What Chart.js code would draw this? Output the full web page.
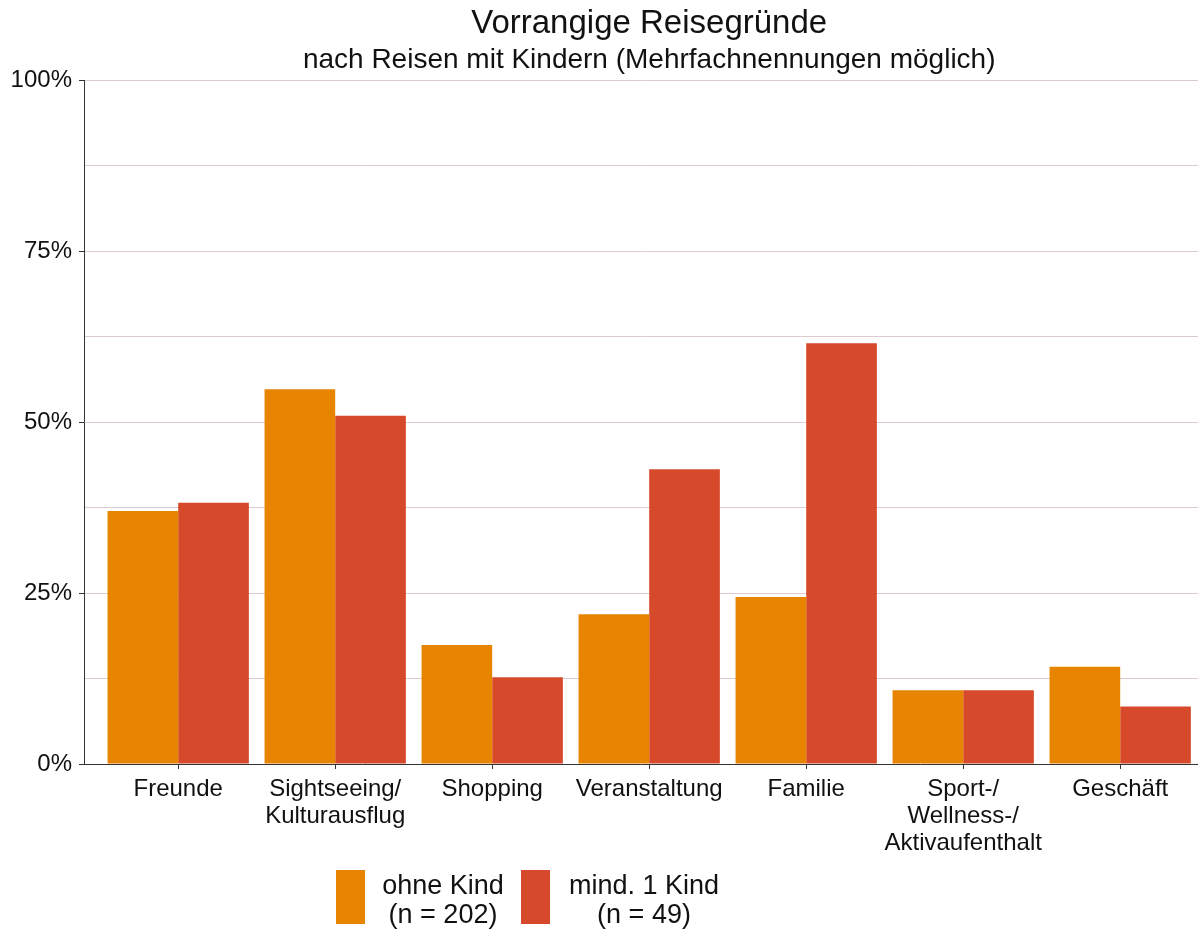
<!DOCTYPE html>
<html>
<head>
<meta charset="utf-8">
<script src="https://cdn.jsdelivr.net/npm/chart.js@4/dist/chart.umd.min.js"></script>
<style>
  html, body { margin: 0; padding: 0; background: #fff; overflow: hidden; }
  #wrap { width: 1198px; height: 930px; position: relative; }
</style>
</head>
<body>
<div id="wrap"><canvas id="reiseChart"></canvas></div>
<script>
// categories (multi-line labels as arrays)
var categories = [
	'Freunde',
	['Sightseeing/', 'Kulturausflug'],
	'Shopping',
	'Veranstaltung',
	'Familie',
	['Sport-/', 'Wellness-/', 'Aktivaufenthalt'],
	'Geschäft'
];

// percentages
var ohneKind = [37.0, 54.8, 17.4, 21.9, 24.4, 10.8, 14.2];
var mindEinKind = [38.2, 50.9, 12.7, 43.1, 61.5, 10.8, 8.4];

var seriesNames = [['ohne Kind', '(n = 202)'], ['mind. 1 Kind', '(n = 49)']];
var seriesColors = ['#E88500', '#D6492B'];

var titleText = 'Vorrangige Reisegründe';
var subtitleText = 'nach Reisen mit Kindern (Mehrfachnennungen möglich)';

var FONT = '"Liberation Sans", Arial, sans-serif';

// ggplot style discrete axis: 0.6 category expansion on each side
var catExpand = 0.6;
var catSpacing = 157;

var expandPlugin = {
	id: 'expandX',
	afterLayout: function (chart) {
		var x = chart.scales.x;
		x._startValue = -catExpand;
		x._valueRange = (x.right - x.left) / catSpacing;
	}
};

var titlePlugin = {
	id: 'centerTitle',
	afterDraw: function (chart) {
		var ctx = chart.ctx;
		var cx = chart.scales.x.getPixelForValue(3);
		ctx.save();
		ctx.fillStyle = '#111';
		ctx.textAlign = 'center';
		ctx.textBaseline = 'alphabetic';
		ctx.font = '33px ' + FONT;
		ctx.fillText(titleText, cx, 33);
		ctx.font = '28px ' + FONT;
		ctx.fillText(subtitleText, cx, 68);
		ctx.restore();
	}
};

var legendPlugin = {
	id: 'twoLineLegend',
	afterDraw: function (chart) {
		var ctx = chart.ctx;
		var boxX = [336, 521];
		var textCx = [443, 644];
		ctx.save();
		ctx.font = '27px ' + FONT;
		ctx.textAlign = 'center';
		ctx.textBaseline = 'alphabetic';
		chart.data.datasets.forEach(function (ds, i) {
			ctx.fillStyle = ds.backgroundColor;
			ctx.fillRect(boxX[i], 870, 29, 54);
			ctx.fillStyle = '#111';
			ctx.fillText(seriesNames[i][0], textCx[i], 894);
			ctx.fillText(seriesNames[i][1], textCx[i], 923);
		});
		ctx.restore();
	}
};

var ctx = document.getElementById('reiseChart').getContext('2d');
var chart = new Chart(ctx, {
	type: 'bar',
	data: {
		labels: categories,
		datasets: [{
			label: seriesNames[0].join(' '),
			data: ohneKind,
			backgroundColor: seriesColors[0]
		}, {
			label: seriesNames[1].join(' '),
			data: mindEinKind,
			backgroundColor: seriesColors[1]
		}]
	},
	options: {
		responsive: true,
		maintainAspectRatio: false,
		animation: false,
		layout: {
			padding: { top: 80, bottom: 70, left: 0, right: 0 }
		},
		datasets: {
			bar: {
				categoryPercentage: 0.9,
				barPercentage: 1.0
			}
		},
		plugins: {
			legend: { display: false },
			title: { display: false },
			tooltip: { enabled: false }
		},
		scales: {
			x: {
				offset: true,
				afterFit: function (s) { s.height = 96; },
				grid: {
					display: true,
					offset: false,
					drawOnChartArea: false,
					drawTicks: true,
					tickLength: 5,
					tickColor: '#333'
				},
				border: { display: true, color: '#333', width: 1 },
				ticks: {
					color: '#111',
					padding: 7,
					maxRotation: 0,
					autoSkip: false,
					font: { family: FONT, size: 24, lineHeight: 1.12 }
				}
			},
			y: {
				min: 0,
				max: 100,
				afterFit: function (s) { s.width = 84; },
				grid: {
					color: function (c) { return c.tick && c.tick.value === 0 ? 'rgba(0,0,0,0)' : '#dccbd1'; },
					lineWidth: 1,
					tickLength: 5,
					tickColor: function (c) { return c.tick && c.tick.value % 25 === 0 ? '#333' : 'rgba(0,0,0,0)'; }
				},
				border: { display: true, color: '#333', width: 1 },
				ticks: {
					stepSize: 12.5,
					color: '#111',
					padding: 7,
					font: { family: FONT, size: 24 },
					callback: function (v) { return v % 25 === 0 ? v + '%' : ''; }
				}
			}
		}
	},
	plugins: [expandPlugin, titlePlugin, legendPlugin]
});
</script>
</body>
</html>
